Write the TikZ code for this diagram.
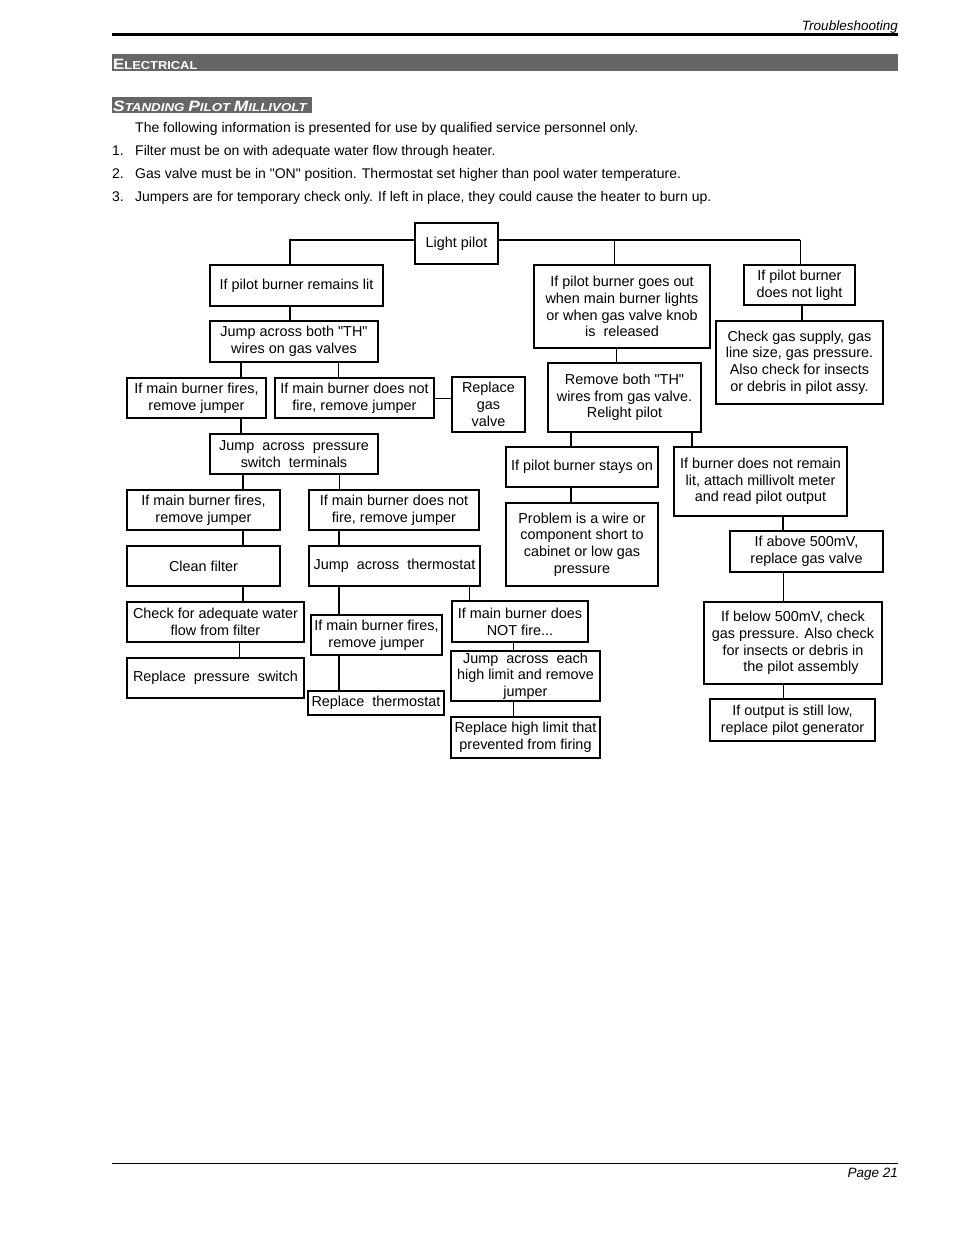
\documentclass[tikz,border=0pt]{standalone}
\usepackage{fontspec}
\setmainfont{Liberation Sans}[Ligatures=TeXOff]
\definecolor{bargray}{RGB}{102,102,102}
\newcommand\mybox[6]{\node[box, minimum width=#4pt, minimum height=#5pt] (#1) at (#2,#3) {#6};}
\newcommand\vcon[4]{\draw[#4] (#1.south -| #3,0) -- (#2.north -| #3,0);}
\newcommand\bigc[1]{{\fontsize{15}{15}\selectfont #1}}
\newcommand\smc[1]{{\fontsize{11.5}{11.5}\selectfont #1}}
\begin{document}
\begin{tikzpicture}[x=1pt,y=-1pt,
  box/.style={draw, line width=1.8pt, inner sep=0pt, outer sep=0pt, align=center, font=\fontsize{14.4}{16.7}\selectfont},
  thk/.style={line width=2pt},
  thn/.style={line width=1pt},
  txt/.style={inner sep=0pt, font=\fontsize{14}{16}\selectfont}]
\useasboundingbox[fill=white] (0,0) rectangle (954,1235);

% header
\node[txt, anchor=base east, font=\itshape\fontsize{13.5}{14}\selectfont] (hdr) at (898,30) {Troubleshooting};
\draw[line width=2.5pt] (112,34.5) -- (898,34.5);
\fill[bargray] (112,54) rectangle (898,71);
\node[txt, anchor=base west, text=white, font=\bfseries] (elec) at (113,69.5) {\scalebox{1.12}[1]{\bigc{E}\smc{LECTRICAL}}};
\fill[bargray] (112,97) rectangle (312,113);
\node[txt, anchor=base west, text=white, font=\bfseries\itshape] (spm) at (113,111) {\scalebox{1.16}[1]{\bigc{S}\smc{TANDING }\bigc{P}\smc{ILOT }\bigc{M}\smc{ILLIVOLT}}};
\node[txt, anchor=base west] (p0) at (135,132) {The following information is presented for use by qualified service personnel only.};
\node[txt, anchor=base west] (n1l) at (112,155) {1.};
\node[txt, anchor=base west] (p1) at (135,155) {Filter must be on with adequate water flow through heater.};
\node[txt, anchor=base west] (n2l) at (112,178) {2.};
\node[txt, anchor=base west] (p2) at (135,178) {Gas valve must be in "ON" position. Thermostat set higher than pool water temperature.};
\node[txt, anchor=base west] (n3l) at (112,201) {3.};
\node[txt, anchor=base west] (p3) at (135,201) {Jumpers are for temporary check only. If left in place, they could cause the heater to burn up.};

% boxes
\mybox{lp}{456.5}{243.5}{83}{41}{Light pilot}
\mybox{rem}{296.5}{285.5}{173}{41}{If pilot burner remains lit}
\mybox{jth}{294}{341.5}{168}{41}{Jump across both "TH"\\wires on gas valves}
\mybox{fa}{196.5}{398}{139}{40}{If main burner fires,\\remove jumper}
\mybox{na}{354.5}{398}{159}{40}{If main burner does not\\fire, remove jumper}
\mybox{rgv}{488.5}{404.5}{73}{55}{Replace\\gas\\valve}
\mybox{jps}{294}{454}{168}{40}{Jump \ across \ pressure\\switch \ terminals}
\mybox{fb}{203.5}{510}{153}{40}{If main burner fires,\\remove jumper}
\mybox{nb}{394}{510}{170}{40}{If main burner does not\\fire, remove jumper}
\mybox{cf}{203.5}{566}{153}{40}{Clean filter}
\mybox{jt}{394.5}{566}{171}{40}{Jump \ across \ thermostat}
\mybox{cw}{215.5}{622}{177}{40}{Check for adequate water\\flow from filter}
\mybox{rps}{215.5}{678}{177}{40}{Replace \ pressure \ switch}
\mybox{fc}{376.5}{635}{131}{40}{If main burner fires,\\remove jumper}
\mybox{rt}{376}{703}{136}{24}{Replace \ thermostat}
\mybox{nf}{520}{621.5}{136}{41}{If main burner does\\NOT fire...}
\mybox{jhl}{525.5}{676}{149}{50}{Jump \ across \ each\\high limit and remove\\jumper}
\mybox{rhl}{525.5}{737.5}{149}{41}{Replace high limit that\\prevented from firing}
\mybox{go}{622}{306.5}{176}{83}{If pilot burner goes out\\when main burner lights\\or when gas valve knob\\is \ released}
\mybox{dnl}{799.5}{285}{111}{40}{If pilot burner\\does not light}
\mybox{cgs}{799.5}{362.5}{167}{83}{Check gas supply, gas\\line size, gas pressure.\\Also check for insects\\or debris in pilot assy.}
\mybox{rth}{624.5}{397.5}{153}{69}{Remove both "TH"\\wires from gas valve.\\Relight pilot}
\mybox{so}{582}{467}{152}{40}{If pilot burner stays on}
\mybox{dnr}{760.5}{481.5}{173}{69}{If burner does not remain\\lit, attach millivolt meter\\and read pilot output}
\mybox{pw}{582}{544.5}{152}{83}{Problem is a wire or\\component short to\\cabinet or low gas\\pressure}
\mybox{af}{806.5}{551.5}{153}{41}{If above 500mV,\\replace gas valve}
\mybox{bf}{793}{643}{178}{82}{If below 500mV, check\\gas pressure. Also check\\for insects or debris in\\\hspace*{1.1em}the pilot assembly}
\mybox{ol}{792.5}{720}{165}{42}{If output is still low,\\replace pilot generator}

% connectors from Light pilot
\coordinate (lj) at (290,240);
\coordinate (gj) at (614,239.5);
\coordinate (rj) at (800,239.5);
\draw[thk] (lp.west |- lj) -- (lj) -- (rem.north -| lj);
\draw[thk] (lp.east |- rj) -- (rj);
\draw[thn] (gj) -- (go.north -| gj);
\draw[thn] (rj) -- (dnl.north -| rj);

% left column
\vcon{rem}{jth}{290}{thk}
\vcon{jth}{fa}{241}{thk}
\vcon{jth}{na}{338}{thn}
\draw[thn] (na.east) -- (rgv.west |- na.east);
\vcon{fa}{jps}{241}{thk}
\vcon{jps}{fb}{243}{thk}
\vcon{jps}{nb}{339}{thn}
\vcon{fb}{cf}{243}{thk}
\vcon{cf}{cw}{243}{thk}
\vcon{cw}{rps}{239}{thn}
\vcon{nb}{jt}{339}{thk}
\vcon{jt}{fc}{339}{thk}
\vcon{fc}{rt}{339}{thk}
\vcon{jt}{nf}{469}{thn}
\vcon{nf}{jhl}{513}{thn}
\vcon{jhl}{rhl}{513}{thn}

% right side
\vcon{go}{rth}{616}{thn}
\vcon{rth}{so}{571}{thk}
\vcon{rth}{dnr}{692}{thk}
\vcon{so}{pw}{571}{thk}
\vcon{dnl}{cgs}{802}{thk}
\vcon{dnr}{af}{783}{thk}
\vcon{af}{bf}{783}{thn}
\vcon{bf}{ol}{783}{thn}

% footer
\draw[line width=1pt] (112,1163) -- (898,1163);
\node[txt, anchor=base east, font=\itshape\fontsize{13.5}{14}\selectfont] (pg) at (898,1177) {Page 21};
\end{tikzpicture}
\end{document}
